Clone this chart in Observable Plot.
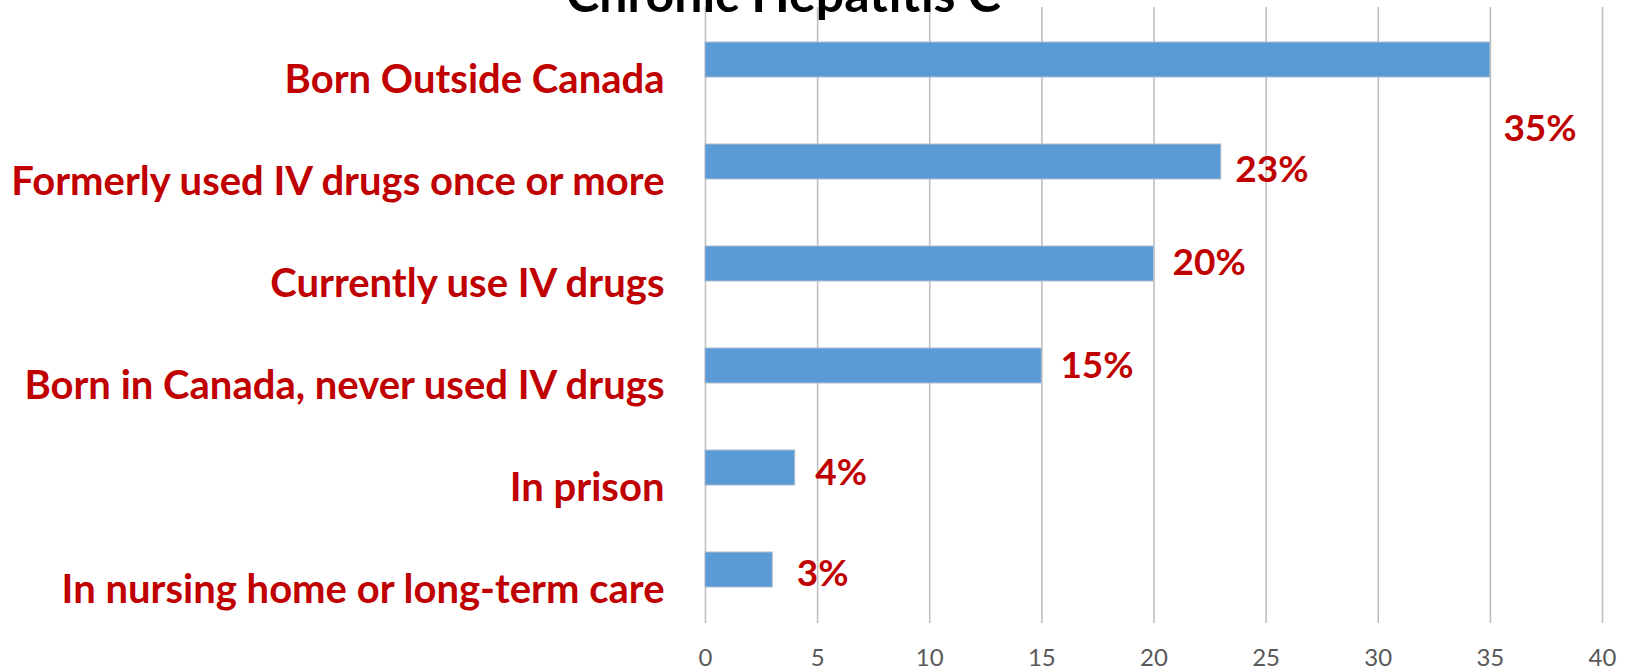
<!DOCTYPE html>
<html>
<head>
<meta charset="utf-8">
<script src="https://cdn.jsdelivr.net/npm/d3@7"></script>
<script src="https://cdn.jsdelivr.net/npm/@observablehq/plot@0.6"></script>
<style>
  html, body { margin: 0; padding: 0; background: #fff; }
  svg { overflow: hidden; }
</style>
</head>
<body>
<div id="chart"></div>
<script>
const categories = [
  "Born Outside Canada",
  "Formerly used IV drugs once or more",
  "Currently use IV drugs",
  "Born in Canada, never used IV drugs",
  "In prison",
  "In nursing home or long-term care"
];
const values = [35, 23, 20, 15, 4, 3];
const xTicks = [0, 5, 10, 15, 20, 25, 30, 35, 40];
const title = "Chronic Hepatitis C";

const data = categories.map((c, i) => ({category: c, value: values[i], label: values[i] + "%"}));

// layout nudges for the value labels (as placed in the original chart)
const labelNudge = [[13, 69], [14, 8], [18.5, -0.5], [18.5, 0], [20, 5], [24, 4]];

const red = "#C00000";
const font = "Lato, 'Open Sans', sans-serif";

const valueLabels = data.map((d, i) =>
  Plot.text([d], {x: "value", y: "category", text: "label", textAnchor: "start",
    dx: labelNudge[i][0], dy: labelNudge[i][1], fill: red, fontSize: 37, fontWeight: "bold"})
);

const chart = Plot.plot({
  width: 1627,
  height: 671,
  marginLeft: 705,
  marginRight: 25,
  marginTop: 7,
  marginBottom: 48,
  style: {background: "#fff", fontFamily: font, overflow: "hidden"},
  x: {domain: [0, 40], ticks: xTicks},
  y: {domain: categories, paddingInner: 0.655, paddingOuter: 0.3275},
  marks: [
    Plot.ruleX(xTicks, {stroke: "#BFBFBF", strokeWidth: 1.6}),
    Plot.barX(data, {x: "value", y: "category", fill: "#5B9BD5", stroke: "#AFBCCB", strokeWidth: 1}),
    ...valueLabels,
    Plot.axisY({tickSize: 0, tickPadding: 41, dy: 20, fill: red, fontSize: 40, fontWeight: "bold", label: null}),
    Plot.axisX({ticks: xTicks, tickSize: 0, tickPadding: 25, fill: "#595959", fontSize: 24, label: null}),
    Plot.text([title], {frameAnchor: "top-left", dx: 78, dy: 4, lineAnchor: "bottom", textAnchor: "middle", fill: "#000", fontSize: 50, fontWeight: "bold"})
  ]
});
document.getElementById("chart").appendChild(chart);
</script>
</body>
</html>
